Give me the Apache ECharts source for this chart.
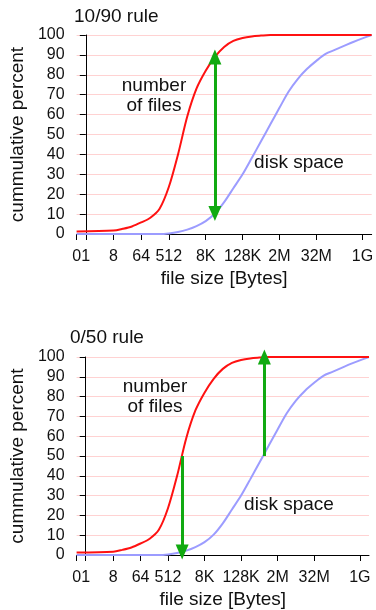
<!DOCTYPE html>
<html>
<head>
<meta charset="utf-8">
<script src="https://cdn.jsdelivr.net/npm/echarts@6/dist/echarts.min.js"></script>
<style>
  html, body { margin: 0; padding: 0; background: #fff; }
  #chart { width: 376px; height: 610px; }
</style>
</head>
<body>
<div id="chart"></div>
<script>
// File size axis is log2(bytes); -1 stands in for the "0" bucket.
const sizeExp = [-1, 3, 4, 5, 6, 7, 8, 9, 10, 11, 12, 13, 14, 15, 16, 17, 18, 19, 20, 31];
// Cumulative percent of files by size
const filesPct = [1.3, 1.7, 2.6, 3.8, 5.8, 8.2, 12.7, 23.6, 40, 59, 73, 82, 89, 94, 97, 98.5, 99.3, 99.7, 100, 100];

const diskExp = [-1, 8, 9, 10, 11, 12, 13, 14, 15, 16, 17, 18, 19, 20, 21, 22, 23, 24, 25, 26, 27, 28, 29, 30, 31];
// Cumulative percent of disk space by file size
const diskPct = [0, 0, 0.3, 1, 2.2, 4, 6.5, 10.3, 16, 23, 30, 38.2, 46.6, 55, 63.4, 71.6, 78, 83, 87, 90.5, 92.5, 94.5, 96.5, 98.3, 100];

// Axis ticks and their labels
const tickExps = [-1, 0, 3, 6, 9, 13, 17, 21, 25, 30];
const tickLabels = ['0', '1', '8', '64', '512', '8K', '128K', '2M', '32M', '1G'];
const pctTicks = [0, 10, 20, 30, 40, 50, 60, 70, 80, 90, 100];

// Arrows: [x, yFrom, yTo]
const arrowTop = [14, 10.3, 89];          // 10/90 rule, double-headed
const arrowDown = [10.55, 50, 1.5];        // 0/50 rule, files
const arrowUp = [19.55, 50, 100];          // 0/50 rule, disk

const titles = ['10/90 rule', '0/50 rule'];

const FONT = '"Liberation Sans", Arial, Helvetica, sans-serif';
const RED = '#ff1111';
const BLUE = '#9c9cff';
const GREEN = '#11aa11';

const PLOT_H = 199;          // plot height in px, 0..100 percent
const HEAD = [13, 15];       // arrow head width / length in px

const chart = echarts.init(document.getElementById('chart'), null, { renderer: 'canvas' });

function xAxisFor(gi) {
  return {
    type: 'value', gridIndex: gi, min: -1, max: 31,
    name: 'file size [Bytes]', nameLocation: 'middle', nameGap: 35,
    nameTextStyle: { fontFamily: FONT, fontSize: 19, color: '#111' },
    axisLine: { show: true, lineStyle: { color: '#000', width: 1 } },
    axisTick: { show: true, length: 6, inside: false, customValues: tickExps, lineStyle: { color: '#000' } },
    axisLabel: {
      show: true, customValues: tickExps, margin: 15, showMinLabel: true, showMaxLabel: true,
      fontFamily: FONT, fontSize: 16, color: '#111',
      formatter: v => { const i = tickExps.indexOf(v); return i >= 0 ? tickLabels[i] : ''; }
    },
    splitLine: { show: false }
  };
}

function yAxisFor(gi) {
  return {
    type: 'value', gridIndex: gi, min: 0, max: 100, interval: 10,
    name: 'cummulative percent', nameLocation: 'middle', nameGap: 44,
    nameTextStyle: { fontFamily: FONT, fontSize: 19, color: '#111' },
    axisLine: { show: true, lineStyle: { color: '#000', width: 1 } },
    axisTick: { show: true, length: 6, inside: false, lineStyle: { color: '#000' } },
    axisLabel: { margin: 12, fontFamily: FONT, fontSize: 16, color: '#111',
      customValues: pctTicks },
    splitLine: { show: true, lineStyle: { color: '#ffd2d2', width: 1.2 } }
  };
}

function pairs(xs, ys) { return xs.map((x, i) => [x, ys[i]]); }

function arrowLine(a, both) {
  return {
    silent: true,
    symbol: both ? ['triangle', 'triangle'] : ['none', 'triangle'],
    symbolSize: HEAD,
    label: { show: false },
    lineStyle: { color: GREEN, width: 3, type: 'solid' },
    itemStyle: { color: GREEN },
    data: [[{ coord: [a[0], a[1]] }, { coord: [a[0], a[2]] }]]
  };
}

function seriesFor(gi, arrows) {
  const files = {
    type: 'line', xAxisIndex: gi, yAxisIndex: gi, data: pairs(sizeExp, filesPct),
    smooth: 0.3, showSymbol: false, lineStyle: { color: RED, width: 2 }, z: 3,
    animation: false
  };
  const disk = {
    type: 'line', xAxisIndex: gi, yAxisIndex: gi, data: pairs(diskExp, diskPct),
    smooth: 0.3, showSymbol: false, lineStyle: { color: BLUE, width: 2 }, z: 2,
    animation: false
  };
  const marks = arrows.map(m => ({
    type: 'line', xAxisIndex: gi, yAxisIndex: gi, data: [], z: 4, animation: false,
    markLine: m
  }));
  return [disk, files].concat(marks);
}

const textStyle = { fontFamily: FONT, fontSize: 19, fill: '#111' };

chart.setOption({
  animation: false,
  backgroundColor: '#fff',
  grid: [
    { left: 73, right: 4, top: 35, height: PLOT_H, containLabel: false },
    { left: 70, right: 7, top: 357, height: PLOT_H, containLabel: false }
  ],
  xAxis: [xAxisFor(0), xAxisFor(1)],
  yAxis: [yAxisFor(0), yAxisFor(1)],
  series: seriesFor(0, [arrowLine(arrowTop, true)])
    .concat(seriesFor(1, [arrowLine(arrowDown, false), arrowLine(arrowUp, false)])),
  graphic: [
    { type: 'text', left: 74, top: 7, style: Object.assign({ text: titles[0] }, textStyle) },
    { type: 'text', left: 70, top: 328, style: Object.assign({ text: titles[1] }, textStyle) },
    { type: 'text', x: 154, y: 96, style: Object.assign({ text: 'number\nof files', align: 'center', verticalAlign: 'middle', lineHeight: 20 }, textStyle) },
    { type: 'text', x: 299, y: 163, style: Object.assign({ text: 'disk space', align: 'center', verticalAlign: 'middle' }, textStyle) },
    { type: 'text', x: 155, y: 397, style: Object.assign({ text: 'number\nof files', align: 'center', verticalAlign: 'middle', lineHeight: 20 }, textStyle) },
    { type: 'text', x: 289, y: 505, style: Object.assign({ text: 'disk space', align: 'center', verticalAlign: 'middle' }, textStyle) }
  ]
});
</script>
</body>
</html>
